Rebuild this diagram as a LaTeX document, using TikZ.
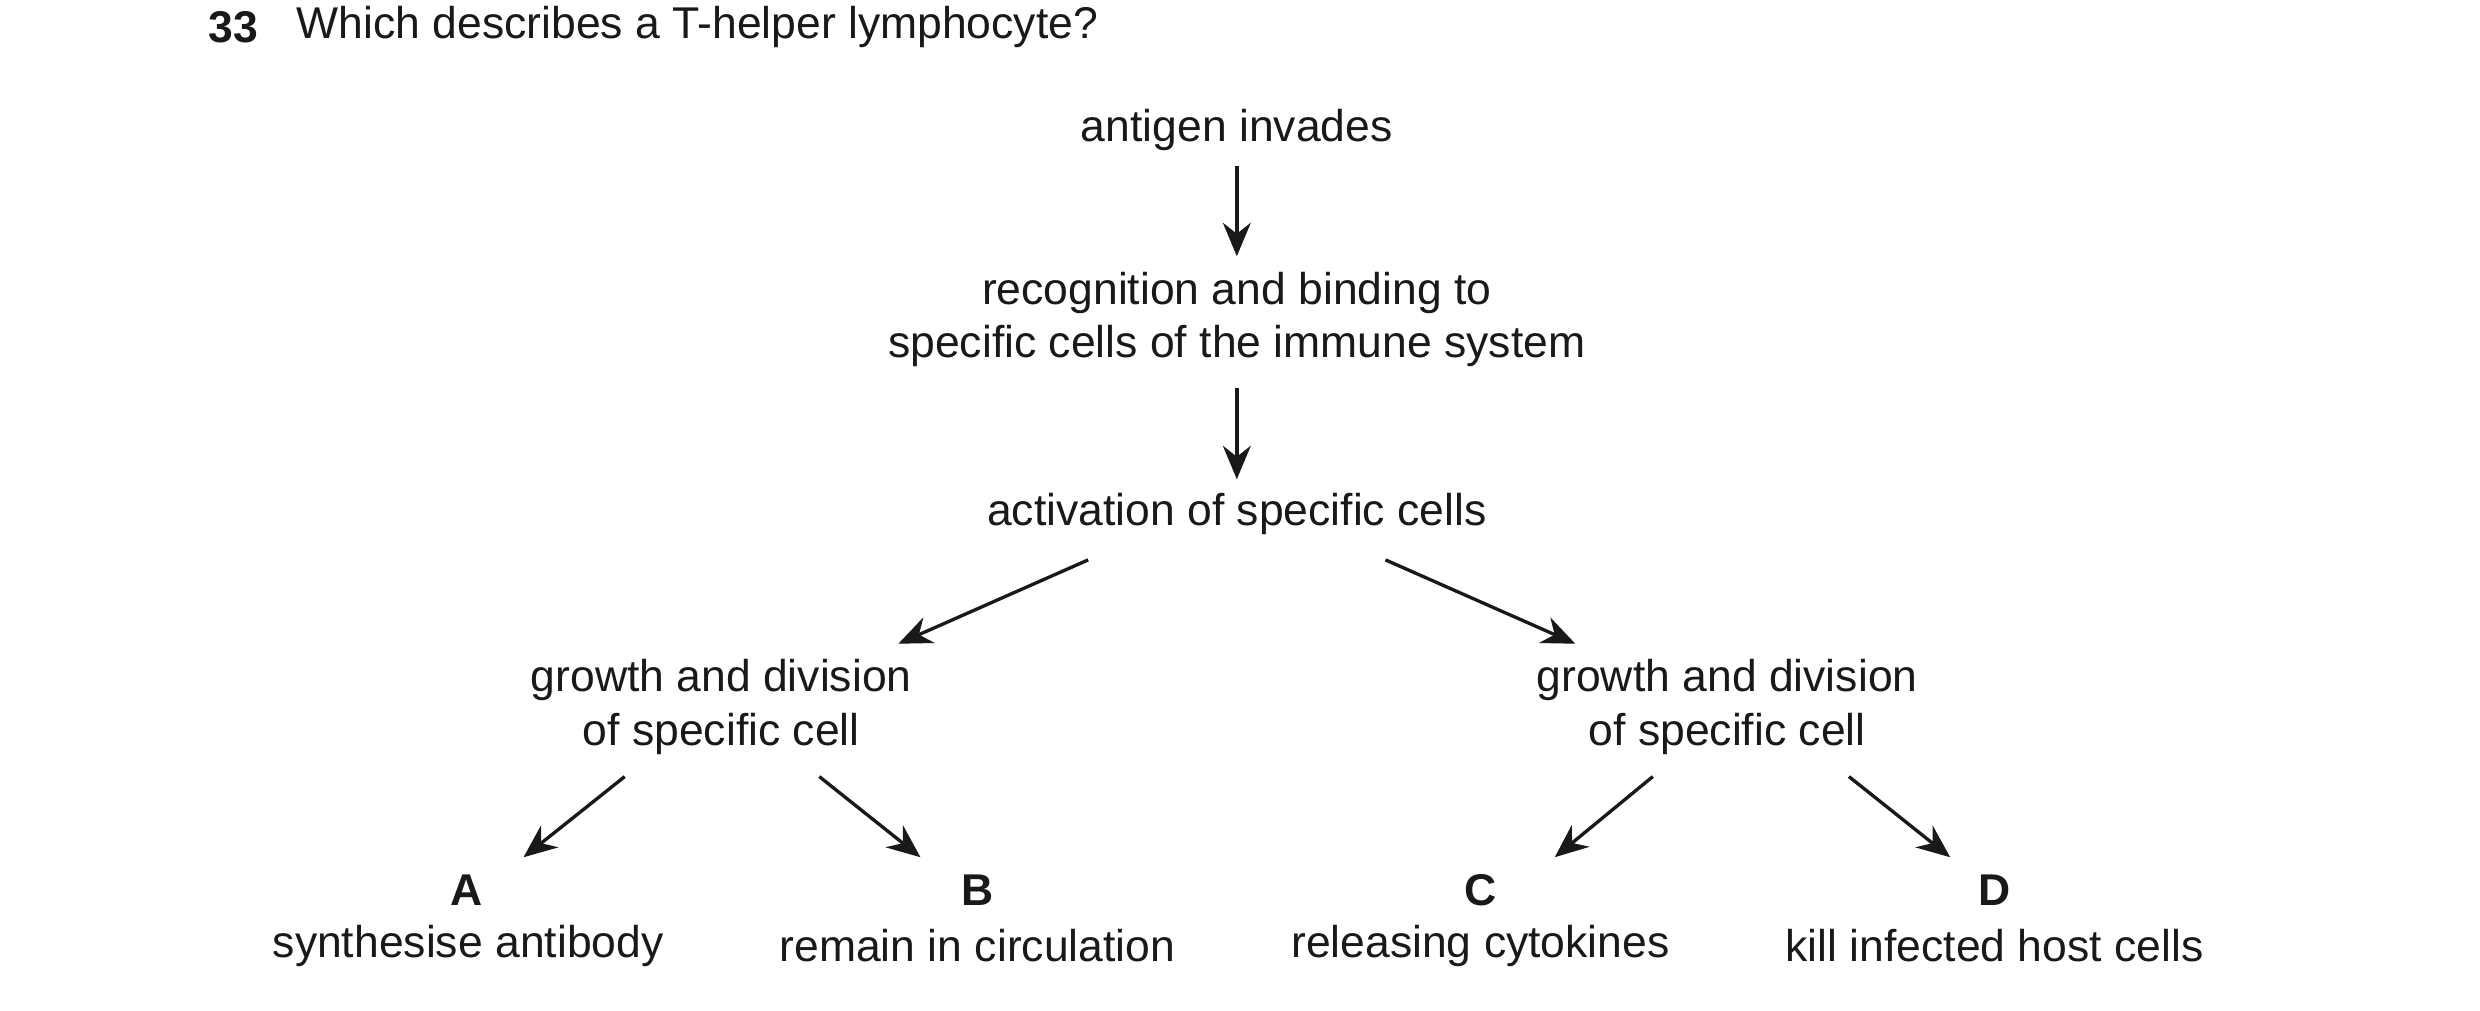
\documentclass[tikz,border=0pt]{standalone}
\usepackage{fontspec}
\setmainfont{Liberation Sans}
\usetikzlibrary{arrows.meta,positioning}

\begin{document}
\begin{tikzpicture}[x=0.01cm,y=-0.01cm,
        every node/.style={inner sep=0pt,align=center,font=\fontsize{8}{9.64}\selectfont,text=black!90},
        arr/.style={-{Stealth[length=6pt,width=5pt]},line width=0.6pt,black!90},
        lbl/.style={font=\fontsize{8}{9.64}\selectfont\bfseries}]
    \useasboundingbox (0,0) rectangle (1568,639);
    % question
    \node[lbl,anchor=west] (num) at (131,17) {33};
    \node[anchor=west] (q) at (187,17) {Which describes a T-helper lymphocyte?};
    % chain
    \node (inv) at (782,82) {antigen invades};
    \node (rec) at (782,202) {recognition and binding to\\specific cells of the immune system};
    \node (act) at (782,325) {activation of specific cells};
    \node (gl) at (456,447) {growth and division\\of specific cell};
    \node (gr) at (1092,447) {growth and division\\of specific cell};
    % options
    \node[lbl] (A) at (295,563) {A};
    \node (a) at (296,598) {synthesise antibody};
    \node[lbl] (B) at (618,563) {B};
    \node (b) at (618,598) {remain in circulation};
    \node[lbl] (C) at (936,563) {C};
    \node (c) at (936,598) {releasing cytokines};
    \node[lbl] (D) at (1261,563) {D};
    \node (d) at (1261,598) {kill infected host cells};
    % arrows
    \draw[arr] (782,105) -- (782,162);
    \draw[arr] (782,245) -- (782,303);
    \draw[arr] (688,354) -- (568,407);
    \draw[arr] (876,354) -- (996,407);
    \draw[arr] (395,491) -- (331,542);
    \draw[arr] (518,491) -- (582,542);
    \draw[arr] (1045,491) -- (983,542);
    \draw[arr] (1169,491) -- (1233,542);
\end{tikzpicture}
\end{document}
